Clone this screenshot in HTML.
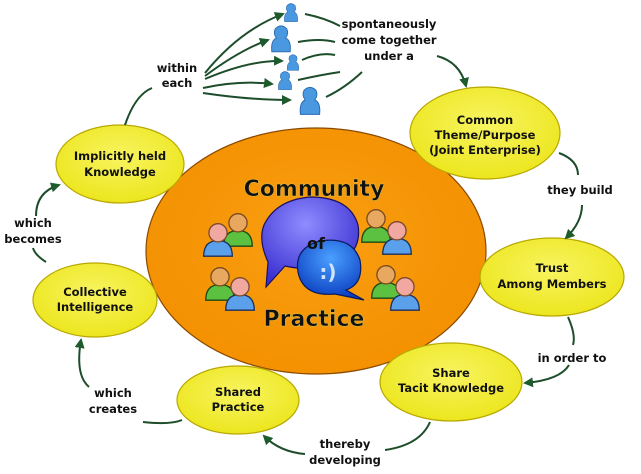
<!DOCTYPE html>
<html><head><meta charset="utf-8"><style>
html,body{margin:0;padding:0;background:#fff;}
svg{display:block;}
text{font-family:"DejaVu Sans","Liberation Sans",sans-serif;font-weight:bold;fill:#111;}
</style></head><body>
<svg width="641" height="474" viewBox="0 0 641 474" xmlns="http://www.w3.org/2000/svg">
<defs>
<radialGradient id="yel" cx="50%" cy="40%" r="60%"><stop offset="0" stop-color="#f8f460"/><stop offset="1" stop-color="#ece61e"/></radialGradient>
<radialGradient id="org" cx="50%" cy="45%" r="60%"><stop offset="0" stop-color="#f99e10"/><stop offset="1" stop-color="#f39000"/></radialGradient>
<radialGradient id="pur" cx="45%" cy="30%" r="70%"><stop offset="0" stop-color="#8f8cff"/><stop offset="1" stop-color="#3a2fd0"/></radialGradient>
<radialGradient id="blu" cx="50%" cy="30%" r="70%"><stop offset="0" stop-color="#4aa0ff"/><stop offset="1" stop-color="#0a3cc0"/></radialGradient>
<marker id="ah" markerWidth="10" markerHeight="10" refX="8" refY="5" orient="auto" markerUnits="userSpaceOnUse"><path d="M0,0 L10,5 L0,10 Z" fill="#1d5a2c"/></marker>
<g id="pp">
<path d="M-11,14 Q-11,2 0,2 Q11,2 11,14 Z" fill="#5aa0ea" stroke="#1a3060" stroke-width="1"/>
<circle cx="0" cy="-4" r="7" fill="#f0a8a0" stroke="#7a4a30" stroke-width="1"/>
</g>
<g id="pg">
<path d="M-11,14 Q-11,2 0,2 Q11,2 11,14 Z" fill="#5cc040" stroke="#1a4a10" stroke-width="1"/>
<circle cx="0" cy="-4" r="7" fill="#e8a860" stroke="#7a4a20" stroke-width="1"/>
</g>
<g id="bp">
<path d="M-8,12 Q-9,2 -4,0 Q-7,-4 -5,-8 Q0,-13 5,-8 Q7,-4 4,0 Q9,2 8,12 Z" fill="#4a98e0" stroke="#2a6ab0" stroke-width="0.8"/>
</g>
</defs>

<ellipse cx="316" cy="251" rx="170" ry="123" fill="url(#org)" stroke="#8a4a00" stroke-width="1.2"/>

<g stroke="#b8a800" stroke-width="1.2" fill="url(#yel)">
<ellipse cx="120" cy="164" rx="64" ry="39"/>
<ellipse cx="485" cy="133" rx="75" ry="46"/>
<ellipse cx="552" cy="277" rx="72" ry="39"/>
<ellipse cx="451" cy="382" rx="71" ry="39"/>
<ellipse cx="238" cy="400" rx="61" ry="34"/>
<ellipse cx="95" cy="300" rx="62" ry="37"/>
</g>

<g font-size="11.5" text-anchor="middle">
<text x="120" y="160">Implicitly held</text><text x="120" y="176">Knowledge</text>
<text x="485" y="124">Common</text><text x="485" y="139">Theme/Purpose</text><text x="485" y="154">(Joint Enterprise)</text>
<text x="552" y="272">Trust</text><text x="552" y="288">Among Members</text>
<text x="451" y="377">Share</text><text x="451" y="392">Tacit Knowledge</text>
<text x="238" y="396">Shared</text><text x="238" y="411">Practice</text>
<text x="95" y="296">Collective</text><text x="95" y="311">Intelligence</text>
</g>

<g fill="none" stroke="#1d4d2a" stroke-width="2">
<path d="M125,125 Q135,95 152,88"/>
<path d="M205,73 Q240,30 283,14" marker-end="url(#ah)"/>
<path d="M205,76 Q240,50 268,40" marker-end="url(#ah)"/>
<path d="M205,79 Q250,60 282,61" marker-end="url(#ah)"/>
<path d="M203,88 Q240,80 272,84" marker-end="url(#ah)"/>
<path d="M203,93 Q250,100 290,100" marker-end="url(#ah)"/>
<path d="M305,14 Q325,18 340,26"/>
<path d="M298,42 Q320,38 335,42"/>
<path d="M302,60 Q320,52 335,55"/>
<path d="M298,80 Q320,75 340,72"/>
<path d="M326,97 Q345,88 362,72"/>
<path d="M437,56 Q460,62 466,86" marker-end="url(#ah)"/>
<path d="M559,153 Q578,160 578,175"/>
<path d="M582,205 Q582,222 566,238" marker-end="url(#ah)"/>
<path d="M568,317 Q576,335 573,345"/>
<path d="M569,365 Q560,380 525,383" marker-end="url(#ah)"/>
<path d="M430,422 Q420,445 385,450"/>
<path d="M305,454 Q280,452 264,436" marker-end="url(#ah)"/>
<path d="M182,420 Q170,425 143,422"/>
<path d="M89,387 Q75,375 81,340" marker-end="url(#ah)"/>
<path d="M46,262 Q35,255 33,248"/>
<path d="M36,216 Q36,192 59,185" marker-end="url(#ah)"/>
</g>

<g font-size="11.5" text-anchor="middle">
<text x="177" y="72">within</text><text x="177" y="87">each</text>
<text x="389" y="28">spontaneously</text><text x="389" y="44">come together</text><text x="389" y="60">under a</text>
<text x="580" y="194">they build</text>
<text x="572" y="362">in order to</text>
<text x="345" y="448">thereby</text><text x="345" y="464">developing</text>
<text x="113" y="397">which</text><text x="113" y="413">creates</text>
<text x="33" y="227">which</text><text x="33" y="243">becomes</text>
</g>

<use href="#bp" transform="translate(291,12) scale(0.8)"/>
<use href="#bp" transform="translate(281,38) scale(1.15)"/>
<use href="#bp" transform="translate(293,62) scale(0.7)"/>
<use href="#bp" transform="translate(285,80) scale(0.8)"/>
<use href="#bp" transform="translate(310,100) scale(1.2)"/>

<use href="#pg" transform="translate(238,228) scale(1.3)"/>
<use href="#pp" transform="translate(218,238) scale(1.3)"/>
<use href="#pg" transform="translate(220,282) scale(1.3)"/>
<use href="#pp" transform="translate(240,292) scale(1.3)"/>
<use href="#pg" transform="translate(376,224) scale(1.3)"/>
<use href="#pp" transform="translate(397,236) scale(1.3)"/>
<use href="#pg" transform="translate(386,280) scale(1.3)"/>
<use href="#pp" transform="translate(405,292) scale(1.3)"/>

<path d="M268,262 Q258,240 264,225 Q276,200 310,197 Q350,197 358,225 Q362,250 340,262 Q310,272 285,266 L266,287 Z" fill="url(#pur)" stroke="#1a1060" stroke-width="1.2"/>
<path d="M298,272 Q294,248 320,241 Q352,236 360,260 Q364,284 346,290 L364,300 L335,294 Q303,297 298,272 Z" fill="url(#blu)" stroke="#0a1a60" stroke-width="1.2"/>
<text x="316" y="249" font-size="16" text-anchor="middle" fill="#111">of</text>
<text x="328" y="279" font-size="20" text-anchor="middle" style="fill:#cfe4ff">:)</text>

<g font-size="22" text-anchor="middle" stroke="#d8c050" stroke-width="0.5">
<text x="314" y="196">Community</text>
<text x="314" y="326">Practice</text>
</g>
</svg>
</body></html>
